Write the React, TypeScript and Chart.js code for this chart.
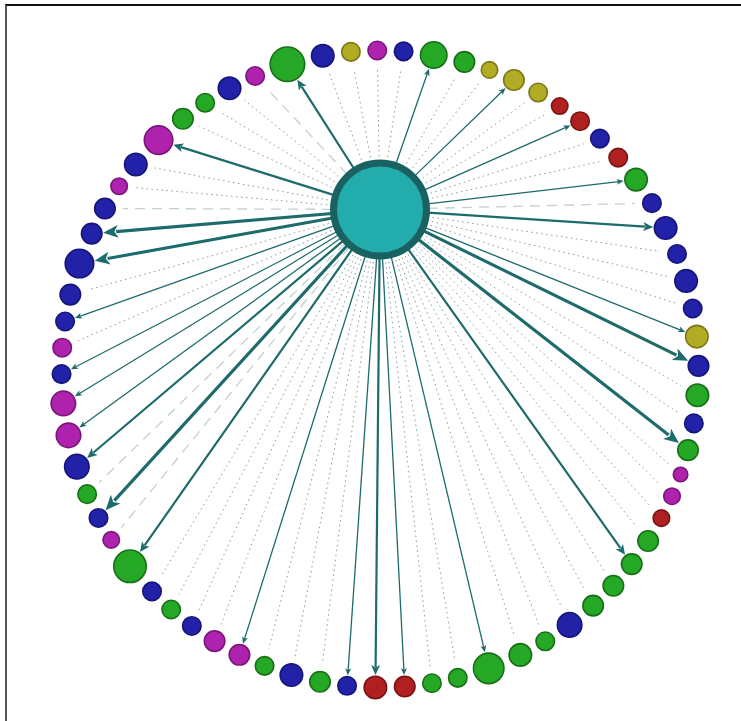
import React, { useEffect, useRef } from "react";
import { Chart, registerables } from "chart.js";

Chart.register(...registerables);

// Node groups (colour category), clockwise from the large green node at upper-left
const groups = [
  "G","B","O","M","B","G","G","O","O","O",
  "R","R","B","R","G","B","B","B","B","B",
  "O","B","G","B","G","M","M","R","G","G",
  "G","G","B","G","G","G","G","G","R","R",
  "B","G","B","G","M","M","B","G","B","G",
  "M","B","G","B","M","M","B","M","B","B",
  "B","B","B","M","B","M","G","G","B","M",
];

// Node weight (drawn as radius)
const weights = [
  18,12,10,10,10,14,11,9,11,10,
  9,10,10,10,12,10,12,10,12,10,
  12,11,12,10,11,8,9,9,11,11,
  11,11,13,10,12,16,10,10,11,12,
  10,11,12,10,11,11,10,10,10,17,
  9,10,10,13,13,13,10,10,10,11,
  15,11,11,9,12,15,11,10,12,10,
];

// Link strength from hub: T thick, M medium, S thin arrow, d dotted, l light dashed
const links = [
  "M","d","d","d","d","S","d","d","S","d",
  "d","S","d","d","S","l","M","d","d","d",
  "S","T","d","d","T","d","d","d","d","M",
  "d","d","d","d","d","S","d","d","S","M",
  "S","d","d","d","S","d","d","d","d","M",
  "l","T","l","M","S","S","S","d","S","d",
  "T","T","l","d","d","M","d","d","d","l",
];

const hubWeight = 50;

const FILL: Record<string, string> = {
  B: "#2222A8",
  G: "#25A825",
  M: "#AE22AE",
  O: "#B2AC25",
  R: "#B02020",
};
const STROKE: Record<string, string> = {
  B: "#15157A",
  G: "#177017",
  M: "#7A167A",
  O: "#7C7818",
  R: "#781414",
};

// layout parameters
const RING_CX = 380;
const RING_CY = 369;
const RING_R = 318.5;
const HUB_X = 380;
const HUB_Y = 209.5;
const START_DEG = -16.9;

function layout() {
  const n = weights.length;
  const circ = 2 * Math.PI * RING_R;
  let sumR = 0;
  for (const w of weights) sumR += w;
  const gap = (circ - 2 * sumR) / n;
  const pts: { x: number; y: number }[] = [];
  let arc = 0;
  for (let i = 0; i < n; i++) {
    if (i > 0) arc += weights[i - 1] + weights[i] + gap;
    const a = (START_DEG * Math.PI) / 180 + arc / RING_R;
    pts.push({ x: RING_CX + RING_R * Math.sin(a), y: RING_CY - RING_R * Math.cos(a) });
  }
  return pts;
}

const edgePlugin = {
  id: "edges",
  beforeDatasetsDraw(chart: any) {
    const ctx = chart.ctx as CanvasRenderingContext2D;
    const xs = chart.scales.x;
    const ys = chart.scales.y;
    const nodes = chart.data.datasets[0].data as { x: number; y: number }[];
    const hub = chart.data.datasets[1].data[0] as { x: number; y: number };
    const hx = xs.getPixelForValue(hub.x);
    const hy = ys.getPixelForValue(hub.y);
    const order = ["d", "l", "S", "M", "T"];
    ctx.save();
    for (const kind of order) {
      nodes.forEach((p, i) => {
        if (links[i] !== kind) return;
        const nx = xs.getPixelForValue(p.x);
        const ny = ys.getPixelForValue(p.y);
        const dx = nx - hx;
        const dy = ny - hy;
        const len = Math.hypot(dx, dy);
        const ux = dx / len;
        const uy = dy / len;
        const sx = hx + ux * (hubWeight - 2);
        const sy = hy + uy * (hubWeight - 2);
        const r = weights[i];
        if (kind === "d" || kind === "l") {
          const ex = nx - ux * (r + 7);
          const ey = ny - uy * (r + 7);
          ctx.beginPath();
          if (kind === "d") {
            ctx.strokeStyle = "rgba(105,130,130,0.8)";
            ctx.lineWidth = 1;
            ctx.setLineDash([1.5, 3.5]);
          } else {
            ctx.strokeStyle = "rgba(150,178,178,0.6)";
            ctx.lineWidth = 1.3;
            ctx.setLineDash([10, 7]);
          }
          ctx.moveTo(sx, sy);
          ctx.lineTo(ex, ey);
          ctx.stroke();
          return;
        }
        const lw = kind === "T" ? 3.2 : kind === "M" ? 2.2 : 1.3;
        const hl = kind === "T" ? 15 : kind === "M" ? 10 : 7;
        const hw = kind === "T" ? 6.5 : kind === "M" ? 4.5 : 3;
        const tx = nx - ux * (r + 0.5);
        const ty = ny - uy * (r + 0.5);
        const bx = tx - ux * hl;
        const by = ty - uy * hl;
        ctx.setLineDash([]);
        ctx.strokeStyle = "#1D6B6B";
        ctx.fillStyle = "#1D6B6B";
        ctx.lineWidth = lw;
        ctx.beginPath();
        ctx.moveTo(sx, sy);
        ctx.lineTo(bx + ux * 2, by + uy * 2);
        ctx.stroke();
        ctx.beginPath();
        ctx.moveTo(tx, ty);
        ctx.lineTo(bx - uy * hw, by + ux * hw);
        ctx.lineTo(bx + ux * hl * 0.25, by + uy * hl * 0.25);
        ctx.lineTo(bx + uy * hw, by - ux * hw);
        ctx.closePath();
        ctx.fill();
      });
    }
    ctx.restore();
  },
};

export default function App() {
  const ref = useRef<HTMLCanvasElement | null>(null);

  useEffect(() => {
    document.body.style.margin = "0";
    const canvas = ref.current;
    if (!canvas) return;
    const pts = layout();
    const chart = new Chart(canvas, {
      type: "scatter",
      data: {
        datasets: [
          {
            data: pts,
            pointRadius: weights.map((w) => w - 0.75),
            pointHoverRadius: weights.map((w) => w - 0.75),
            pointBackgroundColor: groups.map((g) => FILL[g]),
            pointBorderColor: groups.map((g) => STROKE[g]),
            pointBorderWidth: 1.6,
            clip: false,
          } as any,
          {
            data: [{ x: HUB_X, y: HUB_Y }],
            pointRadius: hubWeight - 3.5,
            pointHoverRadius: hubWeight - 3.5,
            pointBackgroundColor: "#22ACAC",
            pointBorderColor: "#1A6262",
            pointBorderWidth: 7,
            clip: false,
          } as any,
        ],
      },
      options: {
        animation: false,
        responsive: false,
        maintainAspectRatio: false,
        events: [],
        layout: { padding: 0, autoPadding: false },
        plugins: { legend: { display: false }, tooltip: { enabled: false } },
        scales: {
          x: { type: "linear", display: false, min: 0, max: 741 },
          y: { type: "linear", display: false, min: 0, max: 721, reverse: true },
        },
      },
      plugins: [edgePlugin],
    });
    return () => chart.destroy();
  }, []);

  return (
    <div style={{ position: "relative", width: 741, height: 721, background: "#fff", overflow: "hidden" }}>
      <canvas ref={ref} width={741} height={721} style={{ display: "block" }} />
      <div
        style={{
          position: "absolute",
          left: 5,
          top: 4,
          right: 0,
          bottom: 0,
          borderLeft: "2px solid #555",
          borderTop: "2px solid #111",
          pointerEvents: "none",
        }}
      />
    </div>
  );
}
